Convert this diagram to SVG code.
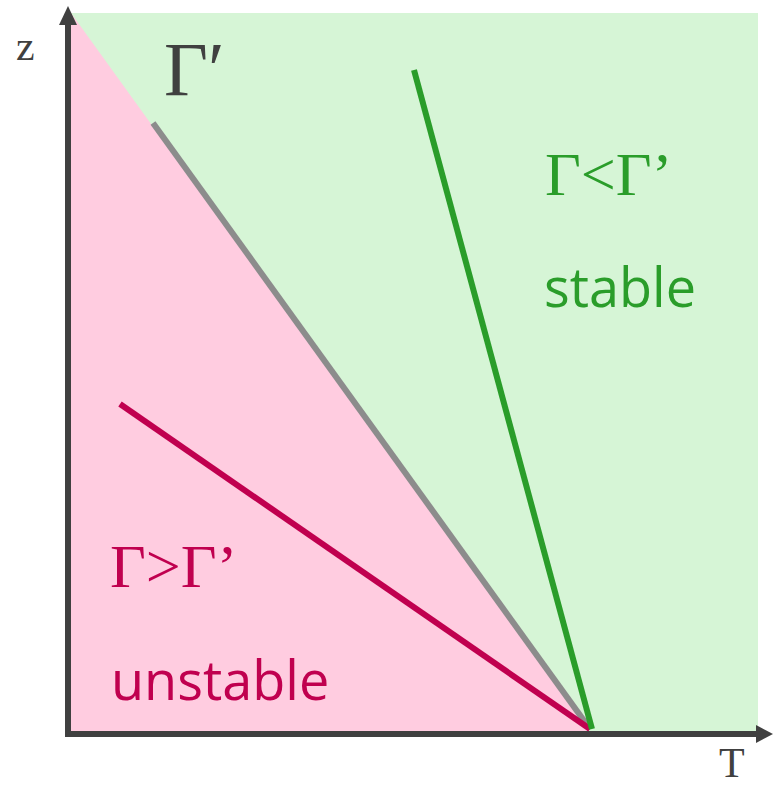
<svg xmlns="http://www.w3.org/2000/svg" width="773" height="787" viewBox="0 0 773 787">
<style>
.serif{font-family:"Liberation Serif","Times New Roman",serif}
.sans{font-family:"Open Sans","Noto Sans",sans-serif}
.ln{stroke-width:6;fill:none;stroke-linecap:butt}
</style>
<g id="background">
<rect x="70" y="13" width="688" height="721" fill="#d6f5d6"/>
<polygon points="71,13 591,734 70,734" fill="#ffcce0"/>
</g>
<g id="connectors">
<line class="ln" x1="153" y1="123" x2="590" y2="729" stroke="#8c8c8c"/>
<line class="ln" x1="120" y1="404" x2="590" y2="729" stroke="#c0004f"/>
<line class="ln" x1="414" y1="70" x2="592" y2="729" stroke="#2a9d2a"/>
</g>
<g id="axes">
<line x1="68" y1="737" x2="68" y2="22" stroke="#404040" stroke-width="6"/>
<polygon points="68,6 59,25 77,25" fill="#404040"/>
<line x1="65" y1="734" x2="760" y2="734" stroke="#404040" stroke-width="6"/>
<polygon points="773,734 756,725 756,743" fill="#404040"/>
</g>
<g id="labels">
<text class="serif" x="16" y="60" font-size="42" fill="#404040">z</text>
<text class="serif" x="719" y="777" font-size="42" fill="#404040">T</text>
<text class="serif" x="164" y="95" font-size="76" fill="#404040">Γ′</text>
<text class="serif" x="545" y="195" font-size="62" fill="#2a9d2a">Γ&lt;Γ’</text>
<text class="sans" x="544" y="307" font-size="54" fill="#2a9d2a">stable</text>
<text class="serif" x="110" y="587" font-size="62" fill="#c0004f">Γ&gt;Γ’</text>
<text class="sans" x="111" y="700" font-size="54" fill="#c0004f">unstable</text>
</g>
</svg>
